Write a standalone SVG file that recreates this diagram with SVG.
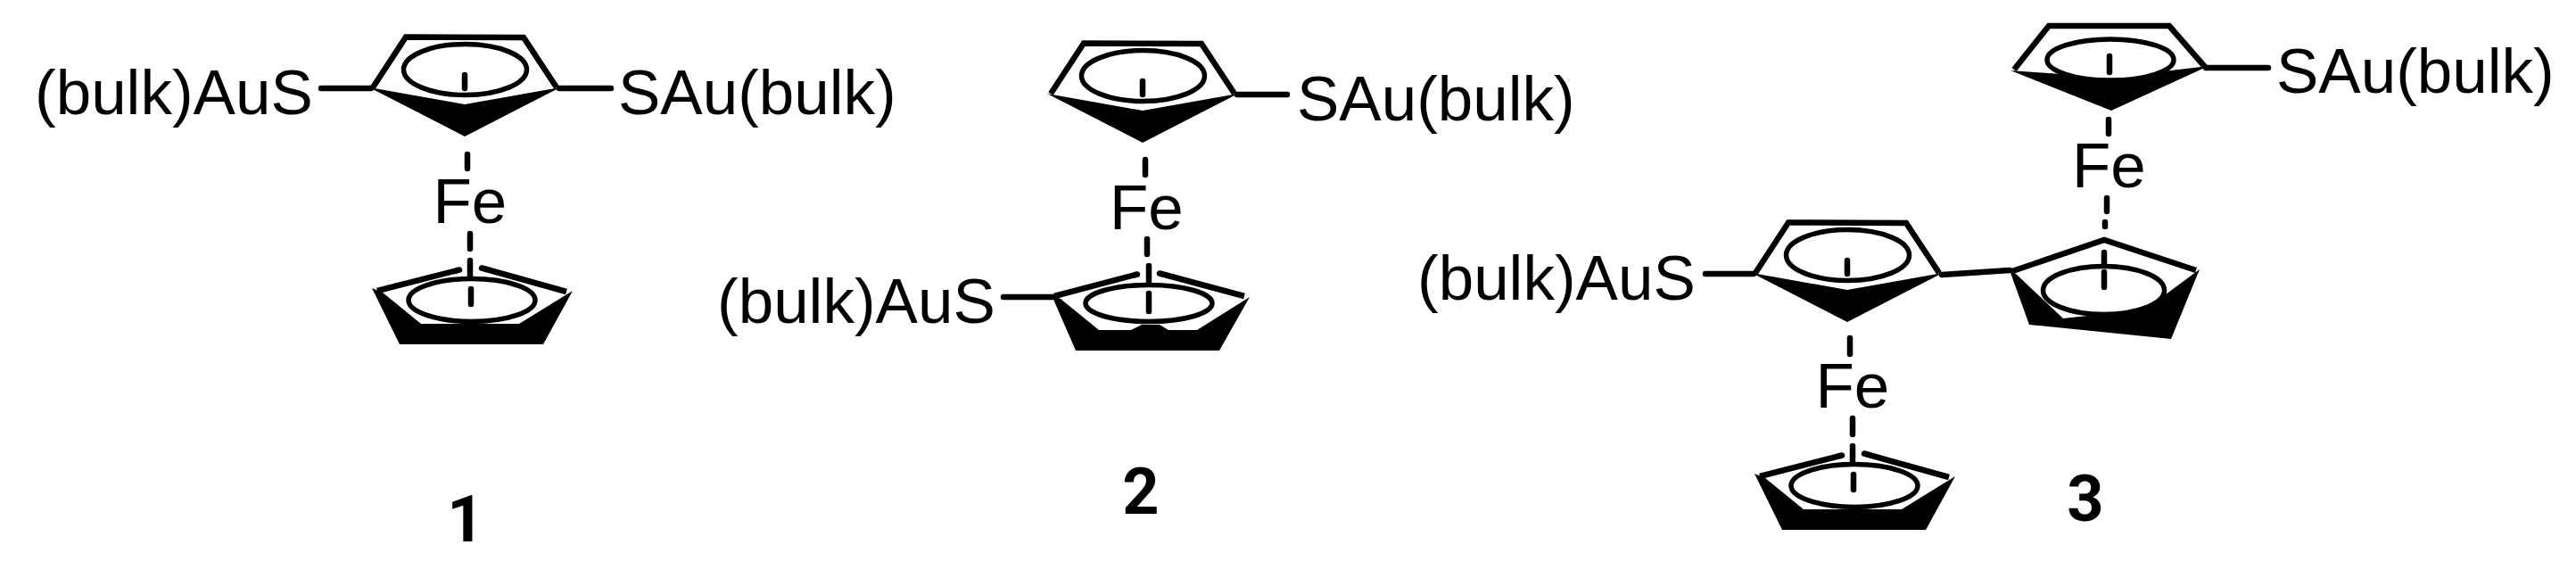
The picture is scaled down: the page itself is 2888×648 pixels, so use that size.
<svg xmlns="http://www.w3.org/2000/svg" width="2888" height="648" viewBox="0 0 2888 648">
<style>
text{font-family:"Liberation Sans",Arial,sans-serif;font-size:71px;fill:#000}
text.n{font-family:Roboto,"Liberation Sans",sans-serif;font-size:72px;font-weight:bold;text-anchor:middle}
.o{fill:none;stroke:#000;stroke-width:6.5;stroke-linejoin:miter}
.f{fill:#000;stroke:none}
.e{fill:#fff;stroke:#000;stroke-width:5.5}
.h{fill:none;stroke:#000;stroke-width:5.5}
.b{fill:none;stroke:#000;stroke-width:6.5;stroke-linecap:round}
</style>
<defs>
<g id="ring-top">
<polygon class="f" points="414,98 521,153 628,98 521,117"/>
<polyline class="o" points="418,98 455,41.5 587,42 624,98"/>
<ellipse class="h" cx="521.500" cy="78" rx="69" ry="28.500"/>
<path class="b" d="M521 84V99"/>
</g>
<g id="ring-bottom">
<polygon class="f" points="417,323 448,386 609,386 642,326 582,363 472,363 429,328"/>
<path class="o" d="M423 326L513 303"/>
<path class="o" d="M635 327L542 301"/>
<path class="b" d="M513 303L515 302.500M542 301L540 300.500"/>
<ellipse class="h" cx="529" cy="336.500" rx="71" ry="24"/>
<path class="b" d="M527 292V309M528 324V341"/>
</g>
</defs>
<rect width="2888" height="648" fill="#fff"/>
<g id="mol1-top-ring"><use href="#ring-top"/></g>
<g id="mol1-fe"><text x="485.500" y="250">Fe</text></g>
<g id="mol1-bottom-ring"><use href="#ring-bottom"/></g>
<g id="mol1-left-label"><text x="39" y="128">(bulk)AuS</text></g>
<g id="mol1-right-label"><text x="693" y="128">SAu(bulk)</text></g>
<g id="mol1-number"><text class="n" x="522" y="607">1</text></g>

<g id="mol2-top-ring"><use href="#ring-top" transform="translate(760 7)"/></g>
<g id="mol2-fe"><text x="1244" y="257">Fe</text></g>
<g id="mol2-bottom-ring">
<polygon class="f" points="1179,331 1206,393 1367,393 1401,333 1342,370 1310,370 1300,364 1280,364 1268,370 1232,370 1189,335"/>
<path class="o" d="M1182 332L1273 308"/>
<path class="o" d="M1395 332L1302 307"/>
<path class="b" d="M1273 308L1275 307.500M1302 307L1300 306.500"/>
<ellipse class="h" cx="1288" cy="340" rx="71" ry="20.500"/>
<path class="b" d="M1288 298V316M1288 329V349"/>
</g>
<g id="mol2-left-label"><text x="804" y="362">(bulk)AuS</text></g>
<g id="mol2-right-label"><text x="1454" y="135">SAu(bulk)</text></g>
<g id="mol2-number"><text class="n" x="1279" y="576">2</text></g>

<g id="mol3-top-ring">
<polygon class="f" points="2254,79 2367,124 2476,74 2367,87"/>
<polyline class="o" points="2258,78 2297,29 2432,29 2472,75"/>
<ellipse class="e" cx="2366" cy="67" rx="71" ry="23"/>
<path class="b" d="M2365 63V81"/>
</g>
<g id="mol3-fe-top"><text x="2323" y="210">Fe</text></g>
<g id="mol3-middle-ring">
<polygon class="f" points="2253,303 2275,364 2434,380 2466,302 2405,347 2313,357 2260,307"/>
<polyline class="o" points="2256,304 2359,269 2462,303"/>
<ellipse class="e" cx="2358.500" cy="325.500" rx="68" ry="27"/>
<path class="b" d="M2359 283V297M2359 305V322"/>
</g>
<g id="mol3-left-ring"><use href="#ring-top" transform="translate(1550 208)"/></g>
<g id="mol3-fe-bottom"><text x="2035.500" y="457">Fe</text></g>
<g id="mol3-bottom-ring"><use href="#ring-bottom" transform="translate(1550 208)"/></g>
<g id="mol3-left-label"><text x="1589" y="336">(bulk)AuS</text></g>
<g id="mol3-right-label"><text x="2552" y="104">SAu(bulk)</text></g>
<g id="mol3-number"><text class="n" x="2338" y="584">3</text></g>

<g id="connectors">
<path class="b" d="M360 99H416M627 99H685M524 173V189M527 262V279"/>
<path class="b" d="M1387 106H1443M1125 333H1180M1284 179V196M1286 268V285"/>
<path class="b" d="M2473 76H2543M1912 307H1966M2177 308L2253 303M2364 134V150M2362 222V237M2360 249V254M2074 379V397M2077 469V487"/>
</g>
</svg>
